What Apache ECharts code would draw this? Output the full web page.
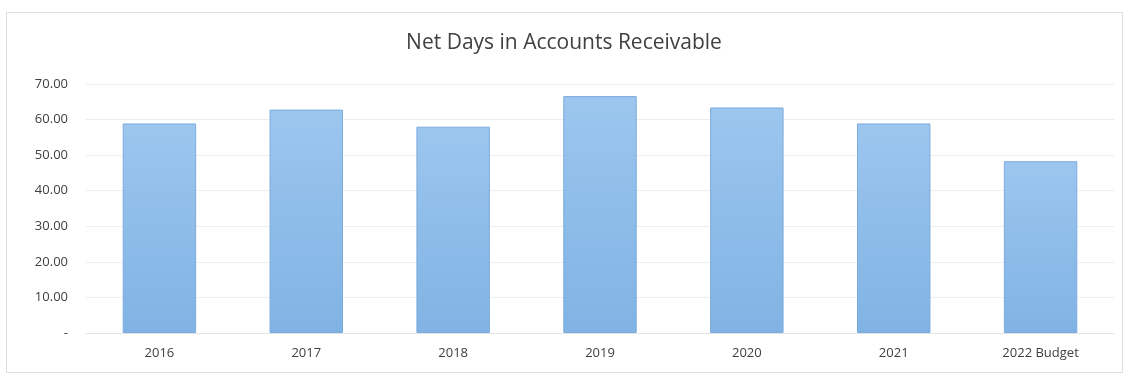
<!DOCTYPE html>
<html>
<head>
<meta charset="utf-8">
<script src="https://cdn.jsdelivr.net/npm/echarts@6/dist/echarts.min.js"></script>
<style>
  html, body { margin: 0; padding: 0; background: #ffffff; }
  #chart { width: 1128px; height: 383px; }
</style>
</head>
<body>
<div id="chart"></div>
<script>
// Fiscal years shown along the x axis
const categories = ['2016', '2017', '2018', '2019', '2020', '2021', '2022 Budget'];
// Net days in accounts receivable per year
const netDays = [58.9, 62.8, 58.0, 66.6, 63.4, 58.9, 48.3];
// Value axis range and step
const yMin = 0;
const yMax = 70;
const yStep = 10;

const chart = echarts.init(document.getElementById('chart'), null, { renderer: 'canvas' });

const font = '"Open Sans", "Liberation Sans", sans-serif';

chart.setOption({
  backgroundColor: '#ffffff',
  animation: false,
  title: {
    text: 'Net Days in Accounts Receivable',
    left: 'center',
    top: 28,
    textStyle: { fontFamily: font, fontSize: 21, fontWeight: 'normal', color: '#404040' }
  },
  graphic: [{
    type: 'rect',
    shape: { x: 6.5, y: 12.5, width: 1116, height: 360 },
    style: { fill: 'none', stroke: '#dddddd', lineWidth: 1 },
    silent: true,
    z: -1
  }],
  grid: { left: 86, right: 14, top: 84, bottom: 50 },
  xAxis: {
    type: 'category',
    data: categories,
    axisLine: { show: true, lineStyle: { color: '#e3e3e3' } },
    axisTick: { show: false },
    axisLabel: { fontFamily: font, fontSize: 13, color: '#404040', margin: 14 }
  },
  yAxis: {
    type: 'value',
    min: yMin,
    max: yMax,
    interval: yStep,
    axisLine: { show: false },
    axisTick: { show: false },
    splitLine: { lineStyle: { color: '#eeeeee', width: 1 } },
    axisLabel: {
      fontFamily: font, fontSize: 13, color: '#404040', margin: 18,
      formatter: v => (v === 0 ? '-' : v.toFixed(2))
    }
  },
  series: [{
    type: 'bar',
    data: netDays,
    barWidth: '50%',
    itemStyle: {
      color: new echarts.graphic.LinearGradient(0, 0, 0, 1, [
        { offset: 0, color: '#9cc6ee' },
        { offset: 1, color: '#80b3e4' }
      ]),
      borderColor: '#7aabdd',
      borderWidth: 1
    }
  }]
});
</script>
</body>
</html>
